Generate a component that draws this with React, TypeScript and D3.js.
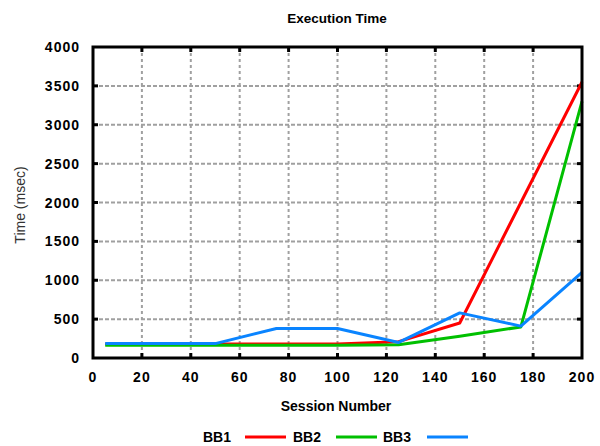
import React from 'react';
import * as d3 from 'd3';

const sessions = [5, 25, 50, 75, 100, 125, 150, 175, 200];
const bb1 = [180, 180, 180, 180, 180, 210, 450, 2000, 3550];
const bb2 = [165, 165, 165, 165, 165, 170, 280, 400, 3300];
const bb3 = [185, 185, 185, 380, 380, 200, 580, 410, 1100];
const seriesNames = ['BB1', 'BB2', 'BB3'];
const seriesColors = ['#ff0000', '#00c000', '#0a84ff'];
const xTicks = [0, 20, 40, 60, 80, 100, 120, 140, 160, 180, 200];
const yTicks = [0, 500, 1000, 1500, 2000, 2500, 3000, 3500, 4000];

const W = 600;
const H = 446;
const margin = {top: 47, right: 18, bottom: 88, left: 93};
const font = '"Liberation Sans", Arial, sans-serif';

export default function App() {
    const x = d3.scaleLinear().domain([0, 200]).range([margin.left, W - margin.right]);
    const y = d3.scaleLinear().domain([0, 4000]).range([H - margin.bottom, margin.top]);

    const line = d3.line<[number, number]>()
        .x(d => x(d[0]))
        .y(d => y(d[1]));

    const allSeries = [bb1, bb2, bb3].map(vals => sessions.map((s, i) => [s, vals[i]] as [number, number]));

    const left = x(0), right = x(200), top = y(4000), bottom = y(0);
    const legendItems = [
        {textX: 217, lineX: 245},
        {textX: 307, lineX: 336},
        {textX: 397, lineX: 427},
    ];

    return (
        <svg width={W} height={H} style={{position: 'absolute', left: 0, top: 0}} fontFamily={font}>
            <rect width={W} height={H} fill="#fff" />
            <text x={337} y={23} textAnchor="middle" fontSize={13.5} fontWeight="bold">Execution Time</text>

            {/* grid */}
            {xTicks.slice(1, -1).map(t => (
                <line key={'gx' + t} x1={x(t)} x2={x(t)} y1={top} y2={bottom}
                      stroke="#a0a0a0" strokeWidth={2} strokeDasharray="3,3" />
            ))}
            {yTicks.slice(1, -1).map(t => (
                <line key={'gy' + t} x1={left} x2={right} y1={y(t)} y2={y(t)}
                      stroke="#a0a0a0" strokeWidth={2} strokeDasharray="4,2" />
            ))}

            {/* tick marks, inward on all four sides */}
            {xTicks.slice(1, -1).map(t => (
                <g key={'tx' + t} stroke="#000" strokeWidth={3}>
                    <line x1={x(t)} x2={x(t)} y1={bottom} y2={bottom - 5} />
                    <line x1={x(t)} x2={x(t)} y1={top} y2={top + 5} />
                </g>
            ))}
            {yTicks.slice(1, -1).map(t => (
                <g key={'ty' + t} stroke="#000" strokeWidth={3}>
                    <line x1={left} x2={left + 5} y1={y(t)} y2={y(t)} />
                    <line x1={right} x2={right - 5} y1={y(t)} y2={y(t)} />
                </g>
            ))}

            {/* series */}
            {allSeries.map((pts, i) => (
                <path key={seriesNames[i]} d={line(pts) || ''} fill="none"
                      stroke={seriesColors[i]} strokeWidth={3} strokeLinejoin="round" />
            ))}

            <rect x={left} y={top} width={right - left} height={bottom - top}
                  fill="none" stroke="#000" strokeWidth={3} />

            {/* tick labels */}
            {xTicks.map(t => (
                <text key={'lx' + t} x={x(t)} y={382} textAnchor="middle" fontSize={14}
                      fontWeight="bold" letterSpacing={1}>{t}</text>
            ))}
            {yTicks.map(t => (
                <text key={'ly' + t} x={80} y={y(t) + 5} textAnchor="end" fontSize={14}
                      fontWeight="bold" letterSpacing={1}>{t}</text>
            ))}

            <text x={336} y={411} textAnchor="middle" fontSize={14} fontWeight="bold">Session Number</text>
            <text transform="translate(25,205) rotate(-90)" textAnchor="middle" fontSize={14}
                  fill="#333">Time (msec)</text>

            {/* legend */}
            {legendItems.map((item, i) => (
                <g key={'leg' + i}>
                    <text x={item.textX} y={442} textAnchor="middle" fontSize={14} fontWeight="bold">{seriesNames[i]}</text>
                    <line x1={item.lineX} x2={item.lineX + 41} y1={437} y2={437}
                          stroke={seriesColors[i]} strokeWidth={3} />
                </g>
            ))}
        </svg>
    );
}
